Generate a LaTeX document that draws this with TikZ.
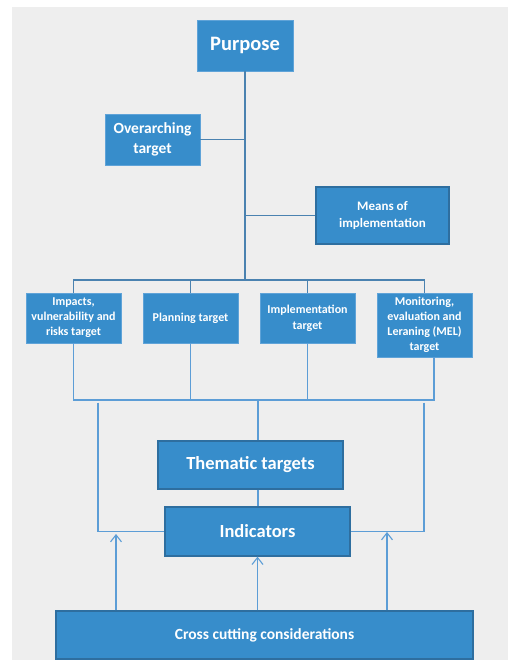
\documentclass[tikz,border=0pt]{standalone}
\usepackage{fontspec}
\setmainfont{Carlito}
\usetikzlibrary{arrows.meta}
\definecolor{boxfill}{HTML}{378DCB}
\definecolor{boxline}{HTML}{2E6E9F}
\definecolor{boxlite}{HTML}{5FA3D8}
\definecolor{treeline}{HTML}{4A82B0}
\definecolor{lowline}{HTML}{5C9DD6}
\definecolor{bg}{HTML}{EEEEEE}
\tikzset{
  bbox/.style={rectangle, fill=boxfill, draw=boxlite, line width=0.8pt, text=white, font=\bfseries, align=center, inner sep=0pt},
  dbox/.style={bbox, draw=boxline, line width=1.3pt},
  tree/.style={draw=treeline, line width=1.3pt},
  low/.style={draw=lowline, line width=1.1pt},
  arr/.style={low, -{Straight Barb[length=7pt,width=11pt,line width=1.1pt]}}
}
\begin{document}
\begin{tikzpicture}[x=1pt,y=-1pt]
\useasboundingbox (0,0) rectangle (508,660);
\fill[white] (0,0) rectangle (508,660);
\fill[bg] (12,7) rectangle (508,660);

\node[bbox, minimum width=96pt, minimum height=51pt, font=\bfseries\fontsize{20.5}{24}\selectfont] (purpose) at (245,45.5) {Purpose};
\node[bbox, minimum width=95pt, minimum height=51pt, font=\bfseries\fontsize{15.5}{20.5}\selectfont] (over) at (152.5,139.5) {Overarching\\target};
\node[dbox, minimum width=133pt, minimum height=57pt, font=\bfseries\fontsize{13}{17.5}\selectfont] (means) at (382.5,215.5) {Means of\\implementation};

\node[bbox, minimum width=95pt, minimum height=50pt, font=\bfseries\fontsize{12}{15}\selectfont] (b1) at (73.5,318) {Impacts,\\vulnerability and\\risks target};
\node[bbox, minimum width=95pt, minimum height=50pt, font=\bfseries\fontsize{12}{15}\selectfont] (b2) at (190.5,318) {Planning target};
\node[bbox, minimum width=95pt, minimum height=50pt, font=\bfseries\fontsize{12}{16}\selectfont] (b3) at (307.5,318) {Implementation\\target};
\node[bbox, minimum width=95pt, minimum height=64pt, font=\bfseries\fontsize{12}{15}\selectfont] (b4) at (424.5,325) {Monitoring,\\evaluation and\\Leraning (MEL)\\target};

\node[dbox, minimum width=185pt, minimum height=48pt, font=\bfseries\fontsize{18.5}{22}\selectfont] (them) at (250.5,465) {Thematic targets};
\node[dbox, minimum width=185pt, minimum height=49pt, font=\bfseries\fontsize{18.5}{22}\selectfont] (ind) at (257.5,531.5) {Indicators};
\node[dbox, minimum width=417pt, minimum height=48pt, font=\bfseries\fontsize{15.5}{18}\selectfont] (cross) at (264.5,635) {Cross cutting considerations};

% upper tree
\coordinate (bus) at (245,280);
\draw[tree] (purpose.south) -- (bus);
\draw[tree] (over.east) -- (over.east -| purpose.south);
\draw[tree] (means.west) -- (means.west -| purpose.south);
\draw[tree] (b1.north) |- (b4.north |- bus) -- (b4.north);
\draw[tree] (b2.north) -- (b2.north |- bus);
\draw[tree] (b3.north) -- (b3.north |- bus);

% lower collector
\coordinate (lb) at (258,400);
\coordinate (b4s) at ([xshift=9.5pt]b4.south);
\draw[low] (b1.south) |- (b4s |- lb) -- (b4s);
\draw[low] (b2.south) -- (b2.south |- lb);
\draw[low] (b3.south) -- (b3.south |- lb);
\draw[low] (lb) -- (lb |- them.north);
\draw[low] (them.south -| lb) -- (ind.north -| lb);

\coordinate (lt) at (98,402.5);
\coordinate (rt) at (424,402.5);
\draw[low] (lt) |- (ind.west);
\draw[low] (rt) |- (ind.east);

% arrows
\coordinate (a1) at (116,534);
\coordinate (a3) at (387,532);
\draw[arr] (cross.north -| a1) -- (a1);
\draw[arr] (cross.north -| ind.south) -- (ind.south);
\draw[arr] (cross.north -| a3) -- (a3);
\end{tikzpicture}
\end{document}
